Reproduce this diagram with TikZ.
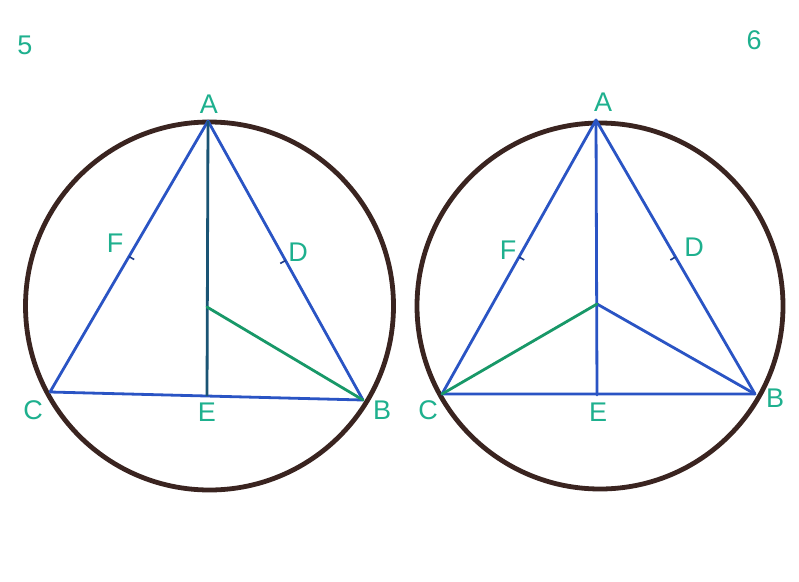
\documentclass[tikz,border=0pt]{standalone}
\usepackage{fontspec}
\setmainfont{Liberation Sans}
\usetikzlibrary{calc}
\definecolor{ringBrown}{RGB}{58,36,32}
\definecolor{lineBlue}{RGB}{42,84,196}
\definecolor{lineGreen}{RGB}{24,152,104}
\definecolor{darkTeal}{RGB}{26,84,116}
\definecolor{labelGreen}{RGB}{30,176,142}
\tikzset{
  ring/.style={ringBrown,line width=4.8pt},
  side/.style={lineBlue,line width=2.8pt,line cap=round,line join=round},
  tick/.style={lineBlue!70!black,line width=1.6pt},
  lbl/.style={labelGreen,font=\fontsize{27}{27}\selectfont}
}

\begin{document}
\begin{tikzpicture}[x=1pt,y=-1pt]
    \useasboundingbox[fill=white] (0,0) rectangle (799,581);
    % figure 5
    \draw[ring] (209.5,306) circle[radius=184];
    \coordinate (A5) at (208,121);
    \coordinate (C5) at (50,392);
    \coordinate (B5) at (363,400);
    \coordinate (E5) at (207,396);
    \coordinate (O5) at (207,307);
    \coordinate (F5) at ($(A5)!0.5!(C5)$);
    \coordinate (D5) at ($(A5)!0.5!(B5)$);
    \draw[side] (A5) -- (C5) -- (B5) -- cycle;
    \draw[darkTeal,line width=2.8pt] (A5) -- (E5);
    \draw[lineGreen,line width=2.8pt,line cap=round] (O5) -- (B5);
    \draw[tick] (F5) -- ($(F5)!6pt!90:(C5)$);
    \draw[tick] (D5) -- ($(D5)!6pt!-90:(B5)$);
    \node[lbl] (n5) at (25,45){5};
    \node[lbl] (lA5) at (209,104){A};
    \node[lbl] (lF5) at (115,243){F};
    \node[lbl] (lD5) at (298,252){D};
    \node[lbl] (lC5) at (33,410){C};
    \node[lbl] (lE5) at (207,412){E};
    \node[lbl] (lB5) at (382,410){B};
    % figure 6
    \draw[ring] (600,306) circle[radius=183];
    \coordinate (A6) at (596,120);
    \coordinate (C6) at (442,394);
    \coordinate (B6) at (755,394);
    \coordinate (E6) at (597,395);
    \coordinate (O6) at (597,304);
    \coordinate (F6) at ($(A6)!0.5!(C6)$);
    \coordinate (D6) at ($(A6)!0.5!(B6)$);
    \draw[side] (A6) -- (C6) -- (B6) -- cycle;
    \draw[side] (A6) -- (E6);
    \draw[side] (O6) -- (B6);
    \draw[lineGreen,line width=2.8pt,line cap=round] (O6) -- (C6);
    \draw[tick] (F6) -- ($(F6)!6pt!90:(C6)$);
    \draw[tick] (D6) -- ($(D6)!6pt!-90:(B6)$);
    \node[lbl] (n6) at (754,40){6};
    \node[lbl] (lA6) at (603,102){A};
    \node[lbl] (lF6) at (508,250){F};
    \node[lbl] (lD6) at (694,247){D};
    \node[lbl] (lC6) at (428,410){C};
    \node[lbl] (lE6) at (598,412){E};
    \node[lbl] (lB6) at (775,398){B};
\end{tikzpicture}
\end{document}
